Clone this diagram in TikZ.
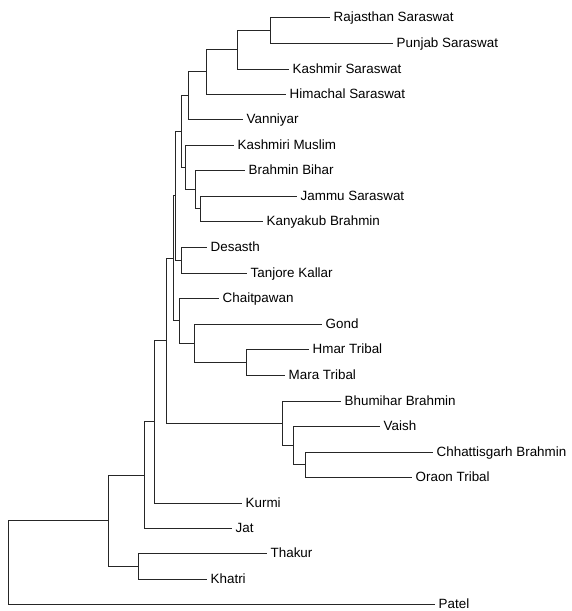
\documentclass[tikz,border=0pt]{standalone}
\usepackage{fontspec}
\setmainfont{Liberation Sans}
\usepackage{tikz}

\tikzset{
  taxon/.style={anchor=west, inner sep=3.5pt, text height=9.6pt, text depth=0pt,
    font=\fontsize{13.4}{16}\selectfont},
  branch/.style={draw=black!85, line width=0.8pt},
}

\begin{document}
\begin{tikzpicture}[x=1pt, y=-1pt]
		\useasboundingbox (0,0) rectangle (571,611);

		% Define nodes
		\node[taxon] (raj) at (330,17) {Rajasthan Saraswat};
		\node[taxon] (pun) at (393,43) {Punjab Saraswat};
		\node[taxon] (kas) at (289,69) {Kashmir Saraswat};
		\node[taxon] (him) at (286,94) {Himachal Saraswat};
		\node[taxon] (van) at (243,119) {Vanniyar};
		\node[taxon] (kmu) at (234,145) {Kashmiri Muslim};
		\node[taxon] (bbi) at (245,170) {Brahmin Bihar};
		\node[taxon] (jam) at (297,196) {Jammu Saraswat};
		\node[taxon] (kan) at (263,221) {Kanyakub Brahmin};
		\node[taxon] (des) at (207,247) {Desasth};
		\node[taxon] (tan) at (247,273) {Tanjore Kallar};
		\node[taxon] (cha) at (219,298) {Chaitpawan};
		\node[taxon] (gon) at (322,324) {Gond};
		\node[taxon] (hma) at (309,349) {Hmar Tribal};
		\node[taxon] (mar) at (285,375) {Mara Tribal};
		\node[taxon] (bhu) at (341,401) {Bhumihar Brahmin};
		\node[taxon] (vai) at (380,426) {Vaish};
		\node[taxon] (chh) at (433,452) {Chhattisgarh Brahmin};
		\node[taxon] (ora) at (412,477) {Oraon Tribal};
		\node[taxon] (kur) at (242,503) {Kurmi};
		\node[taxon] (jat) at (232,528) {Jat};
		\node[taxon] (tha) at (267,553) {Thakur};
		\node[taxon] (kha) at (207,579) {Khatri};
		\node[taxon] (pat) at (435,604) {Patel};

		% Define the splits
		\coordinate (A) at (270,30);
		\coordinate (B) at (237,49.5);
		\coordinate (C) at (206,71.8);
		\coordinate (D) at (188,95.4);
		\coordinate (G) at (200,208.5);
		\coordinate (F) at (195,189.2);
		\coordinate (E) at (185,167.1);
		\coordinate (H) at (181,131.3);
		\coordinate (DT) at (181,260);
		\coordinate (I) at (175,195.6);
		\coordinate (M) at (246,362);
		\coordinate (L) at (194,343);
		\coordinate (K) at (179,320.5);
		\coordinate (J) at (173,258);
		\coordinate (P) at (305,464.5);
		\coordinate (Q) at (293,445.2);
		\coordinate (R) at (282,423.1);
		\coordinate (N) at (166,340.6);
		\coordinate (O) at (154,421.8);
		\coordinate (S) at (144,474.9);
		\coordinate (T) at (138,566);
		\coordinate (U) at (108,520.5);
		\coordinate (root) at (8,562);

		% Connect the nodes
		\draw[branch] (A) |- (raj.west) (A) |- (pun.west);
		\draw[branch] (B) |- (A) (B) |- (kas.west);
		\draw[branch] (C) |- (B) (C) |- (him.west);
		\draw[branch] (D) |- (C) (D) |- (van.west);
		\draw[branch] (G) |- (jam.west) (G) |- (kan.west);
		\draw[branch] (F) |- (bbi.west) (F) |- (G);
		\draw[branch] (E) |- (kmu.west) (E) |- (F);
		\draw[branch] (H) |- (D) (H) |- (E);
		\draw[branch] (DT) |- (des.west) (DT) |- (tan.west);
		\draw[branch] (I) |- (H) (I) |- (DT);
		\draw[branch] (M) |- (hma.west) (M) |- (mar.west);
		\draw[branch] (L) |- (gon.west) (L) |- (M);
		\draw[branch] (K) |- (cha.west) (K) |- (L);
		\draw[branch] (J) |- (I) (J) |- (K);
		\draw[branch] (P) |- (chh.west) (P) |- (ora.west);
		\draw[branch] (Q) |- (vai.west) (Q) |- (P);
		\draw[branch] (R) |- (bhu.west) (R) |- (Q);
		\draw[branch] (N) |- (J) (N) |- (R);
		\draw[branch] (O) |- (N) (O) |- (kur.west);
		\draw[branch] (S) |- (O) (S) |- (jat.west);
		\draw[branch] (T) |- (tha.west) (T) |- (kha.west);
		\draw[branch] (U) |- (S) (U) |- (T);
		\draw[branch] (root) |- (U) (root) |- (pat.west);
	\end{tikzpicture}
\end{document}
